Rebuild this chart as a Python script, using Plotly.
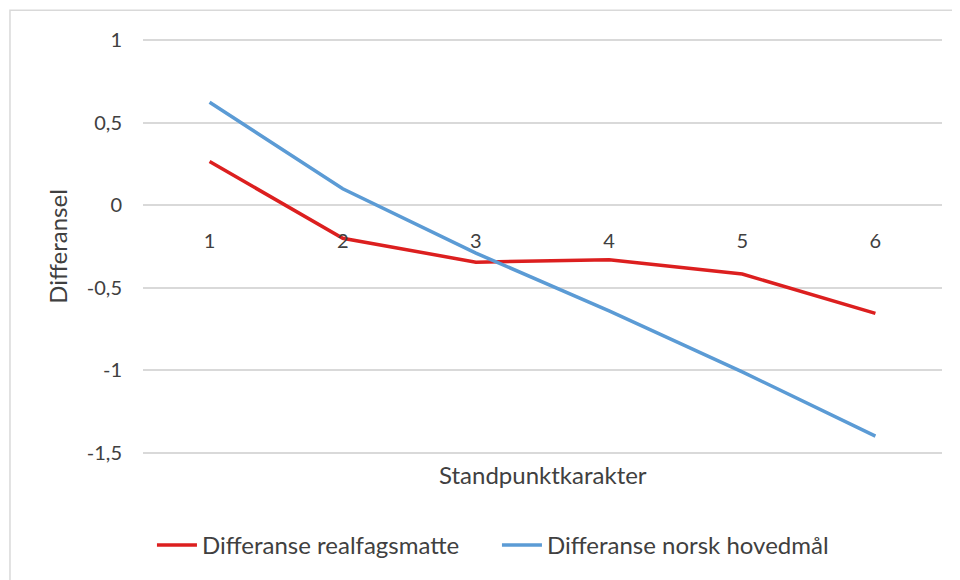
import plotly.graph_objects as go

karakter = ["1", "2", "3", "4", "5", "6"]
realfag = [0.265, -0.20, -0.345, -0.33, -0.417, -0.655]
norsk = [0.625, 0.10, -0.29, -0.64, -1.01, -1.40]

y_ticks = [-1.5, -1, -0.5, 0, 0.5, 1]
y_labels = ["-1,5", "-1", "-0,5", "0", "0,5", "1"]

font = "Lato, 'Open Sans', sans-serif"

fig = go.Figure()
fig.add_trace(go.Scatter(x=karakter, y=realfag, mode="lines",
                         name="Differanse realfagsmatte",
                         line=dict(color="#DC1F1F", width=3.5)))
fig.add_trace(go.Scatter(x=karakter, y=norsk, mode="lines",
                         name="Differanse norsk hovedmål",
                         line=dict(color="#5B9BD5", width=3.5)))

# page has an 8px body margin, so the figure is a bit smaller than the window
# y range padded a little so the 1 and -1,5 gridlines are drawn
fig.update_layout(
    width=952, height=572,
    margin=dict(l=135, r=18, t=29, b=121),
    paper_bgcolor="white", plot_bgcolor="white",
    font=dict(family=font, size=20, color="#404040"),
    xaxis=dict(type="category", anchor="free", position=1.52 / 2.54,
               range=[-0.5, 5.5], showgrid=False, showline=False,
               ticks="outside", ticklen=18, tickcolor="rgba(0,0,0,0)",
               tickfont=dict(size=20)),
    yaxis=dict(range=[-1.52, 1.02], tickvals=y_ticks, ticktext=y_labels,
               showgrid=True, gridcolor="#D9D9D9", gridwidth=1.5,
               zeroline=False, showline=False, ticks="outside",
               ticklen=16, tickcolor="rgba(0,0,0,0)",
               tickfont=dict(size=20),
               title=dict(text="Differansel", font=dict(size=24), standoff=12)),
    legend=dict(orientation="h", x=0.443, xanchor="center",
                y=-0.2133, yanchor="middle", font=dict(size=24),
                itemwidth=40, entrywidth=290, entrywidthmode="pixels"),
    showlegend=True,
)

fig.add_annotation(text="Standpunktkarakter", xref="paper", yref="paper",
                   x=0.5, y=-0.045, xanchor="center", yanchor="middle",
                   showarrow=False, font=dict(size=24, color="#404040"))

fig.add_shape(type="rect", xref="paper", yref="paper",
              x0=-0.1665, x1=1.06, y0=-0.4, y1=1.064,
              line=dict(color="#D9D9D9", width=1.5), layer="below")

fig.write_html("out.html")
